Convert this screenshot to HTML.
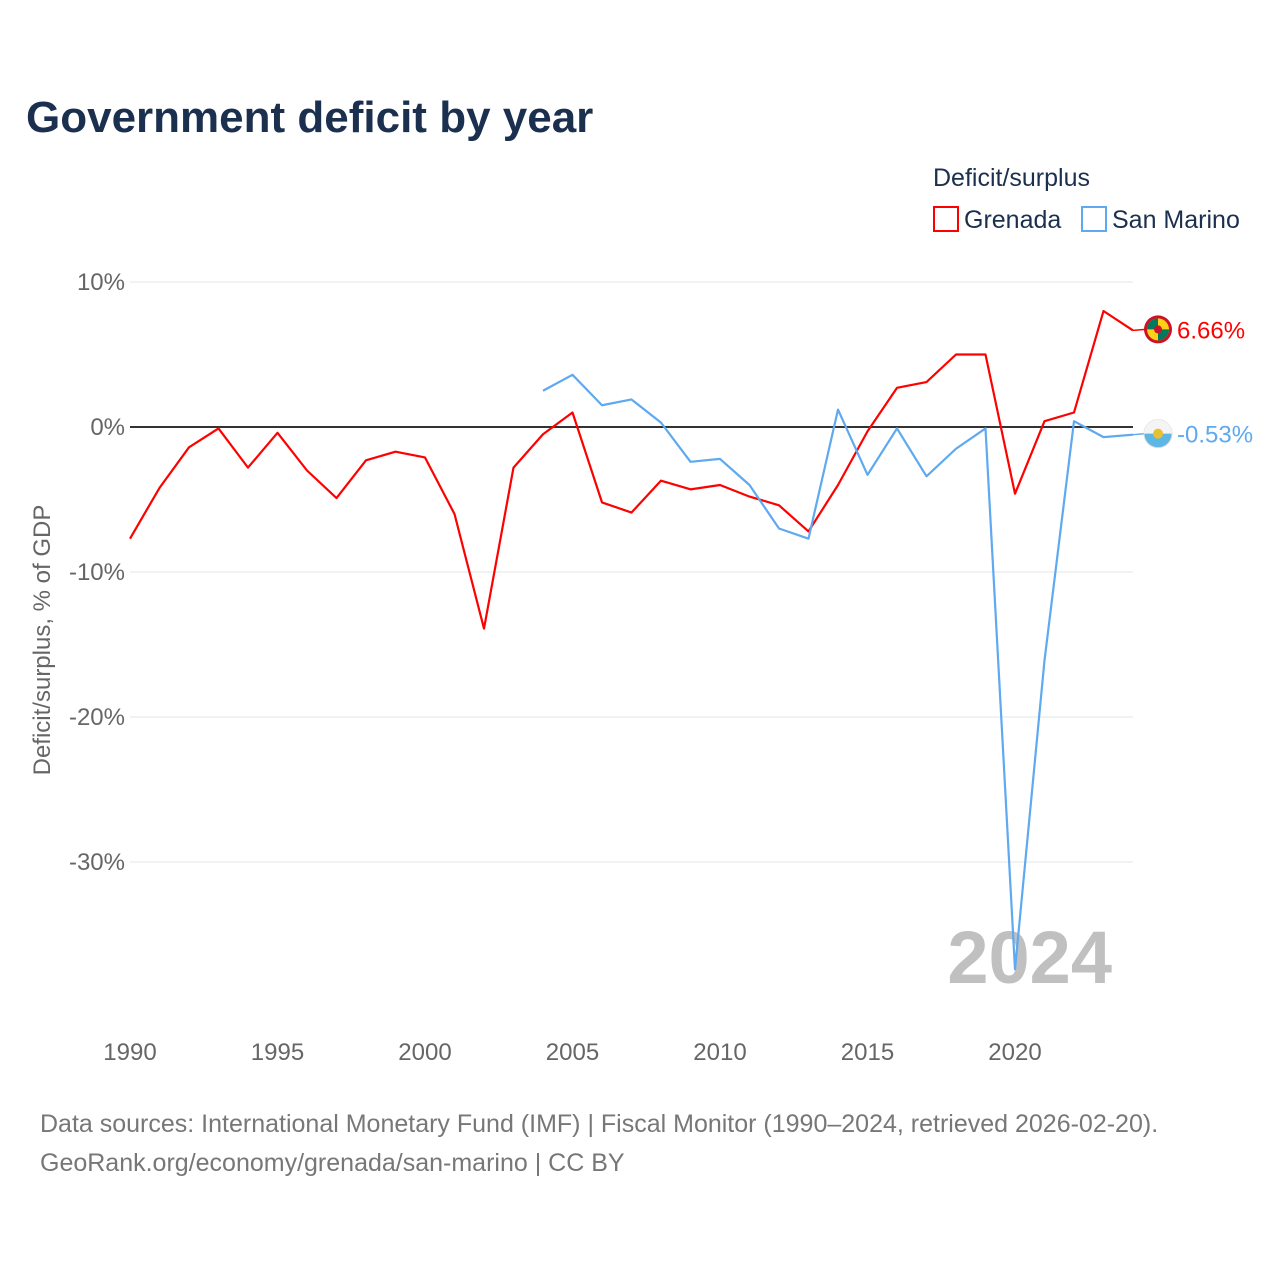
<!DOCTYPE html>
<html><head><meta charset="utf-8">
<style>
body{margin:0;background:#fff;font-family:"Liberation Sans",sans-serif;}
svg text{font-family:"Liberation Sans",sans-serif;}
</style></head>
<body>
<svg id="chart" width="1280" height="1280" viewBox="0 0 1280 1280">
<defs>
<clipPath id="clipG"><circle cx="0" cy="0" r="13"/></clipPath>
</defs>
<text x="26" y="132" font-size="44" font-weight="bold" fill="#1b2f4e">Government deficit by year</text>
<text x="933" y="186" font-size="25" fill="#1b2f4e">Deficit/surplus</text>
<g>
<rect x="934" y="207" width="24" height="24" fill="#fff" stroke="#ff0000" stroke-width="2"/>
<text x="964" y="228" font-size="25" fill="#1b2f4e">Grenada</text></g>
<g>
<rect x="1082" y="207" width="24" height="24" fill="#fff" stroke="#5ea9ef" stroke-width="2"/>
<text x="1112" y="228" font-size="25" fill="#1b2f4e">San Marino</text></g>
<g id="grid"></g>
<text x="1112" y="983" font-size="74" font-weight="bold" fill="#c0c0c0" text-anchor="end">2024</text>
<text transform="translate(50,640) rotate(-90)" font-size="24" fill="#666" text-anchor="middle">Deficit/surplus, % of GDP</text>
<g id="series"></g>
<text x="40" y="1132" font-size="25" fill="#777">Data sources: International Monetary Fund (IMF) | Fiscal Monitor (1990–2024, retrieved 2026-02-20).</text>
<text x="40" y="1171" font-size="25" fill="#777">GeoRank.org/economy/grenada/san-marino | CC BY</text>
</svg>
<script>
const yTicks=[10,0,-10,-20,-30];
const xTicks=[1990,1995,2000,2005,2010,2015,2020];
const grenadaYears=[1990,1991,1992,1993,1994,1995,1996,1997,1998,1999,2000,2001,2002,2003,2004,2005,2006,2007,2008,2009,2010,2011,2012,2013,2014,2015,2016,2017,2018,2019,2020,2021,2022,2023,2024];
const grenadaValues=[-7.7,-4.2,-1.4,-0.1,-2.8,-0.4,-3.0,-4.9,-2.3,-1.7,-2.1,-6.0,-13.9,-2.8,-0.5,1.0,-5.2,-5.9,-3.7,-4.3,-4.0,-4.8,-5.4,-7.2,-4.0,-0.3,2.7,3.1,5.0,5.0,-4.6,0.4,1.0,8.0,6.66];
const smYears=[2004,2005,2006,2007,2008,2009,2010,2011,2012,2013,2014,2015,2016,2017,2018,2019,2020,2021,2022,2023,2024];
const smValues=[2.5,3.6,1.5,1.9,0.3,-2.4,-2.2,-4.0,-7.0,-7.7,1.2,-3.3,-0.1,-3.4,-1.5,-0.1,-37.4,-16.1,0.4,-0.7,-0.53];
const NS='http://www.w3.org/2000/svg';
const X=y=>130+(y-1990)*29.5;
const Y=v=>427-v*14.5;
function mk(tag,attrs,parent){const e=document.createElementNS(NS,tag);for(const k in attrs)e.setAttribute(k,attrs[k]);parent.appendChild(e);return e;}
const grid=document.getElementById('grid');
yTicks.forEach(t=>{
 const l=mk('line',{x1:130,x2:1133,y1:Y(t),y2:Y(t),stroke:t===0?'#333':'#e6e6e6','stroke-width':t===0?2:1},grid);
 
 
 const tx=mk('text',{x:125,y:Y(t)+8,'font-size':24,fill:'#666','text-anchor':'end'},grid);
 tx.textContent=t+'%';
 
 
});
xTicks.forEach(t=>{
 const tx=mk('text',{x:X(t),y:1060,'font-size':24,fill:'#666','text-anchor':'middle'},grid);
 tx.textContent=t;
 
 
});
const ser=document.getElementById('series');
function line(years,vals,color,name,label,flag){
 const p=mk('polyline',{points:years.map((y,i)=>X(y)+','+Y(vals[i])).join(' '),fill:'none',stroke:color,'stroke-width':2.2,'stroke-linejoin':'round'},ser);
 
 
 const lx=X(years[years.length-1]),ly=Y(vals[vals.length-1]);
 const cn=mk('line',{x1:lx,y1:ly,x2:lx+12,y2:ly-1,stroke:color,'stroke-width':1.5},ser);
 
 
 const g=mk('g',{transform:'translate('+(lx+25)+','+(ly-1)+')'},ser);
 
 
 flag(g);
 const t=mk('text',{x:lx+44,y:ly+8,'font-size':24,fill:color},ser);
 t.textContent=label;
 
 
}
line(grenadaYears,grenadaValues,'#ff0000','grenada','6.66%',g=>{
 mk('circle',{r:14,fill:'#ce1126'},g);
 mk('circle',{r:11,fill:'#fcd116'},g);
 mk('path',{d:'M0 0 L-11 0 A11 11 0 0 1 0 -11 Z M0 0 L11 0 A11 11 0 0 1 0 11 Z',fill:'#007a5e'},g);
 mk('circle',{r:4,fill:'#ce1126'},g);
});
line(smYears,smValues,'#5ea9ef','san-marino','-0.53%',g=>{
 mk('circle',{r:14,fill:'#5eb6e4',stroke:'#ddd','stroke-width':1},g);
 mk('path',{d:'M-14 0 A14 14 0 0 1 14 0 Z',fill:'#f4f4f4'},g);
 mk('circle',{r:5,fill:'#e8c030'},g);
});
</script>
</body></html>
